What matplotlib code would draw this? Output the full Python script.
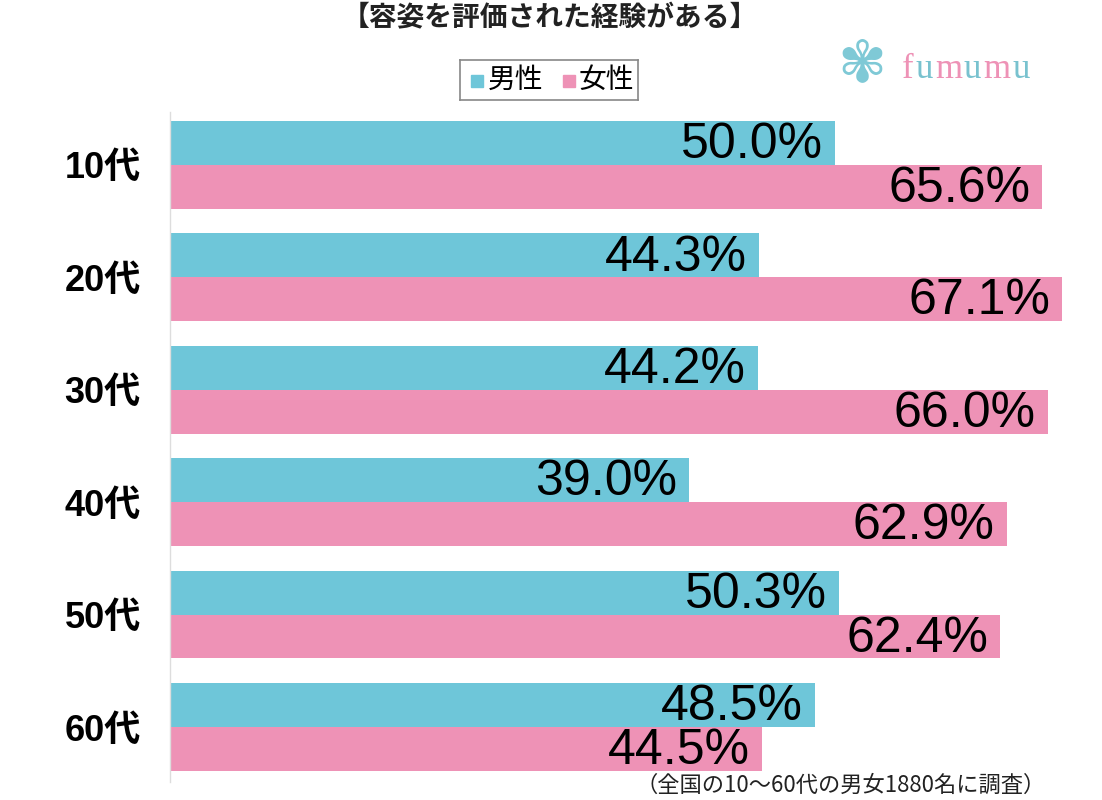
import numpy as np
import matplotlib
matplotlib.use("Agg")
import matplotlib.pyplot as plt

plt.rcParams['font.family'] = ['Liberation Sans', 'Noto Sans CJK JP', 'DejaVu Sans']

# data
ages = ["10代", "20代", "30代", "40代", "50代", "60代"]
male = [50.0, 44.3, 44.2, 39.0, 50.3, 48.5]
female = [65.6, 67.1, 66.0, 62.9, 62.4, 44.5]

blue = "#6ec6d9"
pink = "#ee92b6"

fig = plt.figure(figsize=(11.02, 8.0), dpi=100)
ax = fig.add_axes([170/1102, 1-782/800, 920/1102, (782-112)/800])

y = np.arange(len(ages))
h = 0.39
ax.barh(y - h/2, male, height=h, color=blue)
ax.barh(y + h/2, female, height=h, color=pink)

# value labels inside bar ends
for i in range(len(ages)):
    ax.text(male[i] - 0.9, y[i] - h/2 + 0.02, f"{male[i]:.1f}%", ha="right", va="center",
            fontsize=36, color="black")
    ax.text(female[i] - 0.9, y[i] + h/2 + 0.02, f"{female[i]:.1f}%", ha="right", va="center",
            fontsize=36, color="black")

ax.set_xlim(0, 920/13.3)
ax.set_ylim(5.49, -0.47)
ax.set_yticks(y)
ax.set_yticklabels(ages, fontsize=26, fontweight="bold")
ax.tick_params(axis="y", length=0, pad=21)
ax.set_xticks([])
for s in ["top", "right", "bottom"]:
    ax.spines[s].set_visible(False)
ax.spines["left"].set_color("#dddddd")
ax.spines["left"].set_linewidth(1)

# title
fig.text(550/1102, 1-19/800, "【容姿を評価された経験がある】", ha="center", va="center",
         fontsize=20, fontweight="bold", color="#222222")

# legend box
leg_ax = fig.add_axes([460/1102, 1-100/800, 178/1102, 40/800])
leg_ax.set_xlim(0, 178)
leg_ax.set_ylim(0, 40)
leg_ax.set_xticks([])
leg_ax.set_yticks([])
for s in leg_ax.spines.values():
    s.set_color("#888888")
    s.set_linewidth(1.2)
leg_ax.add_patch(plt.Rectangle((11, 13), 12, 12, color=blue))
leg_ax.text(28, 19, "男性", va="center", ha="left", fontsize=20)
leg_ax.add_patch(plt.Rectangle((103, 13), 12, 12, color=pink))
leg_ax.text(119, 19, "女性", va="center", ha="left", fontsize=20)

# logo
fig.text(862/1102, 1-65/800, "✾", ha="center", va="center", fontsize=42,
         color="#7fc9d6", family=["DejaVu Sans"])
logo_cols = [pink, "#79c2cf", pink, "#79c2cf", pink, "#79c2cf"]
renderer = fig.canvas.get_renderer()
x0 = 902
for ch, col in zip("fumumu", logo_cols):
    t = fig.text(x0/1102, 1-70/800, ch, ha="left", va="center", fontsize=25,
                 color=col, family=["Liberation Serif"])
    x0 += t.get_window_extent(renderer).width + 2

# footnote
fig.text(1046/1102, 1-785/800, "（全国の10〜60代の男女1880名に調査）", ha="right", va="center",
         fontsize=16, color="#222222", family=["Noto Sans CJK JP"])

fig.savefig("out.png", dpi=100)
